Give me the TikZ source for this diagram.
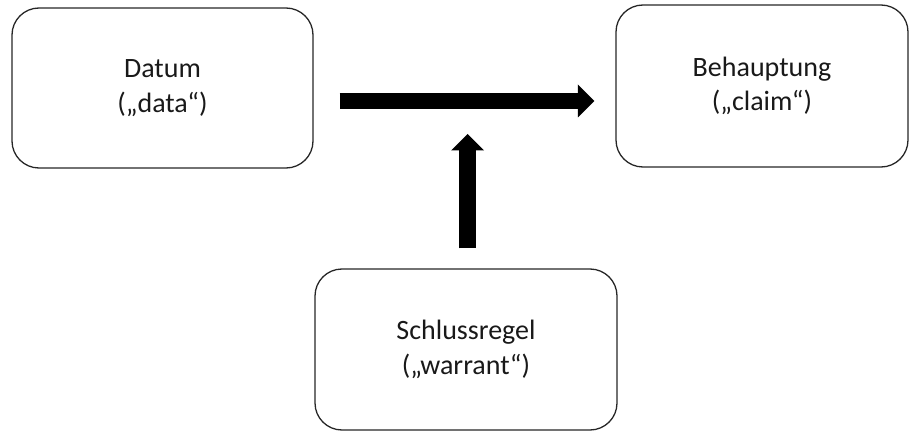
\documentclass[tikz,border=0pt]{standalone}
\usepackage{fontspec}
\setmainfont{Carlito}
\usetikzlibrary{arrows.meta}

\tikzset{
  card/.style={draw=black!85, line width=1.3pt, rounded corners=27pt,
    align=center, inner sep=0pt, text=black!90,
    font=\fontsize{28}{34.5}\selectfont},
  bigarrow/.style={draw=black, line width=16.5pt,
    -{Triangle[width=33pt,length=16.5pt,line width=0pt]}}
}

\begin{document}
\begin{tikzpicture}[x=1pt,y=1pt]
  \useasboundingbox (0,0) rectangle (911,432);

  % the three statement boxes
  \node[card, minimum width=301pt, minimum height=160pt] (datum)
    at (162.5,344) {Datum\\(„data“)};
  \node[card, minimum width=292pt, minimum height=162pt] (claim)
    at (762,346) {Behauptung\\(„claim“)};
  \node[card, minimum width=302pt, minimum height=161pt] (warrant)
    at (466,82.5) {Schlussregel\\(„warrant“)};

  % main inference: data leads to the claim
  \coordinate (hline) at ([yshift=-13pt]datum.east);
  \draw[bigarrow, shorten <=26pt, shorten >=21pt]
    (hline) -- (hline -| claim.west);

  % the warrant supports the inference from below
  \coordinate (wfoot) at ([xshift=1.5pt]warrant.north);
  \draw[bigarrow, shorten <=20pt, shorten >=33pt]
    (wfoot) -- (wfoot |- hline);
\end{tikzpicture}
\end{document}
